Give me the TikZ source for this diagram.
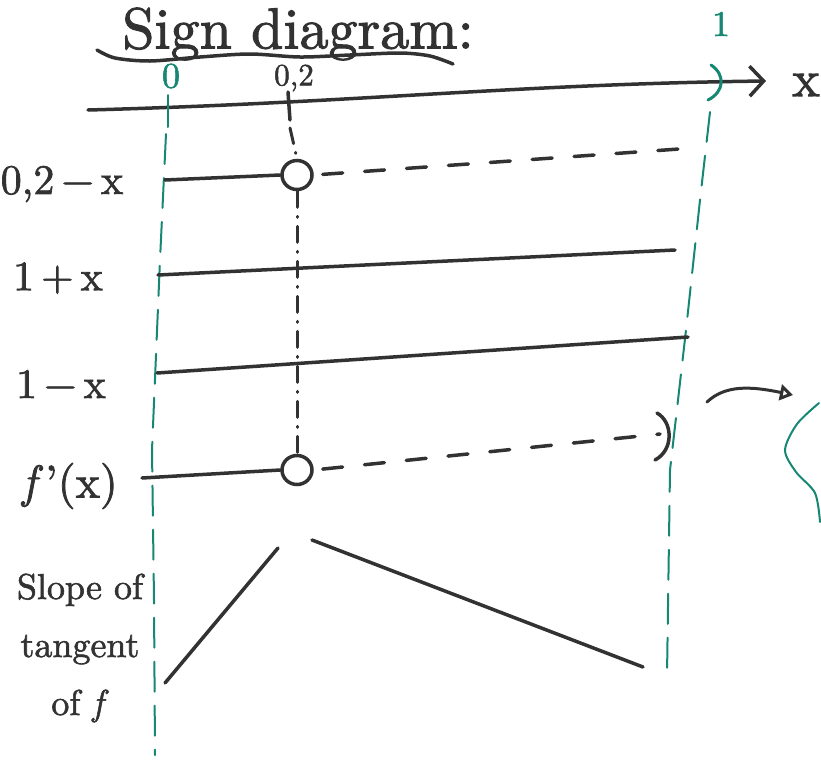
\RequirePackage{fix-cm}
\documentclass[tikz,border=0pt]{standalone}
\usepackage{fontspec}
\newfontfamily\heavy{lmroman10-regular.otf}[FakeBold=1.6, ItalicFont=lmroman10-italic.otf, ItalicFeatures={FakeBold=1.6}]
\usetikzlibrary{arrows.meta,shapes.geometric}
\definecolor{ink}{RGB}{50,50,50}
\definecolor{tealink}{RGB}{22,135,115}
\tikzset{
  inkline/.style={draw=ink, line width=3.5pt, line cap=round},
  dashedink/.style={inkline, dash pattern=on 20pt off 22pt},
  dashdot/.style={draw=ink, line width=3pt, line cap=round, dash pattern=on 16pt off 9pt on 1pt off 9pt},
  greenline/.style={draw=tealink, line width=2pt, line cap=round},
  greendash/.style={greenline, dash pattern=on 30pt off 14pt},
  hole/.style={ellipse, draw=ink, line width=3.5pt, minimum width=30pt, minimum height=29pt, inner sep=0pt},
  lbl/.style={text=ink, inner sep=0pt, font=\heavy\fontsize{42}{50}\selectfont},
  glbl/.style={text=tealink, inner sep=0pt, font=\heavy\fontsize{36}{42}\selectfont},
}
\begin{document}
\begin{tikzpicture}[x=1pt,y=-1pt]
\useasboundingbox (0,0) rectangle (821,761);

% title
\node[text=ink, inner sep=0pt, font=\heavy\fontsize{58}{64}\selectfont] (title) at (298,34) {Sign diagram:};
\draw[inkline] plot[smooth] coordinates {(97,50) (115,58) (150,61) (200,57) (250,54) (300,57) (350,55) (400,53) (430,56) (453,64)};

% axis
\coordinate (ax0) at (88,110);
\coordinate (ax1) at (766,81);
\draw[inkline, -{Straight Barb[length=14pt,width=30pt]}] (ax0) .. controls (350,103) and (520,84) .. (ax1);
\node[lbl, font=\heavy\fontsize{52}{58}\selectfont] (xlab) at (806,85) {x};

% axis labels
\node[glbl] (zero) at (171,76) {0};
\node[text=ink, inner sep=0pt, font=\heavy\fontsize{31}{36}\selectfont] (pt2) at (294,78) {0,2};
\node[glbl] (one) at (721,24) {1};

% green marks on the axis
\draw[greenline] (168,95) -- (168,127);
\draw[tealink, line width=3pt, line cap=round] (711,65) .. controls (726,75) and (724,92) .. (708,100);

% green boundaries
\draw[greendash] (166,134) -- (160,260) -- (152,450) -- (154,600) -- (155,755);
\draw[greendash] (710,112) -- (700,200) -- (686,330) -- (670,470) -- (667,675);

% row labels
\node[lbl] (l1) at (62,184) {0,2\,−\,x};
\node[lbl] (l2) at (58,278) {1\,+\,x};
\node[lbl] (l3) at (61,384) {1\,−\,x};
\node[lbl, font=\heavy\fontsize{46}{52}\selectfont] (l4) at (70,486) {\textit{f}\kern2pt’(x)};
\node[text=ink, inner sep=0pt, align=center, font=\heavy\fontsize{36}{58}\selectfont] (l5) at (80,648) {Slope of\\tangent\\of \textit{f}};

% holes
\node[hole] (c1) at (297,175) {};
\node[hole] (c2) at (297,470) {};

% vertical through 0,2
\draw[inkline] (288,92) -- (290,120);
\coordinate (vtop) at (290,128);
\draw[dashdot] (vtop) -- (c1.north);
\draw[dashdot] (c1.south) -- (c2.north);

% row 1
\coordinate (r1s) at (165,180);
\coordinate (r1e) at (693,148);
\draw[inkline] (r1s) -- (c1.west);
\draw[dashedink, shorten <=9pt] (c1.east) -- (r1e);

% row 2
\coordinate (r2s) at (158,275);
\coordinate (r2e) at (675,250);
\draw[inkline] (r2s) -- (r2e);

% row 3
\coordinate (r3s) at (157,373);
\coordinate (r3e) at (688,337);
\draw[inkline] (r3s) -- (r3e);

% row 4
\coordinate (r4s) at (142,478);
\coordinate (r4e) at (660,434);
\draw[inkline] (r4s) -- (c2.west);
\draw[dashedink, shorten <=9pt] (c2.east) -- (r4e);
\draw[inkline] (657,413) .. controls (673,422) and (674,450) .. (655,460);

% slope of tangent
\coordinate (s1a) at (165,683);
\coordinate (s1b) at (278,548);
\coordinate (s2a) at (312,540);
\coordinate (s2b) at (643,667);
\draw[inkline] (s1a) -- (s1b);
\draw[inkline] (s2a) -- (s2b);

% side note
\coordinate (na) at (707,402);
\coordinate (nb) at (793,395);
\draw[draw=ink, line width=3pt, line cap=round, -{Triangle[open,length=13pt,width=16pt]}] (na) .. controls (725,385) and (750,386) .. (nb);
\draw[greenline] plot[smooth] coordinates {(819,403) (797,424) (785,450) (796,472) (815,493) (820,522)};
\end{tikzpicture}
\end{document}
